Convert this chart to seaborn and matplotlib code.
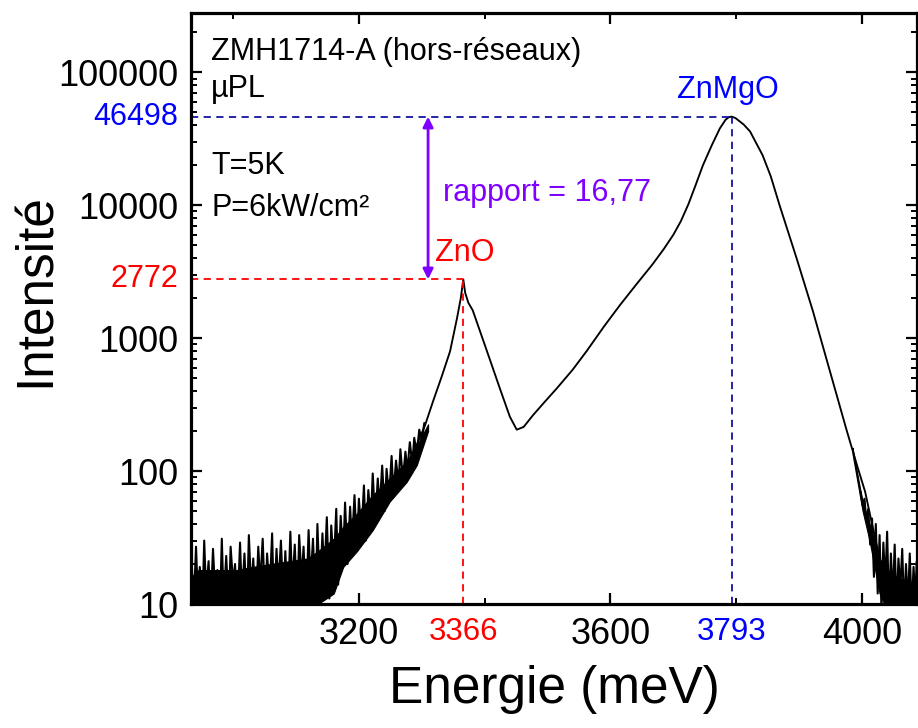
import numpy as np
import matplotlib
matplotlib.use("Agg")
import matplotlib.pyplot as plt
import matplotlib.transforms as mtransforms
from matplotlib.ticker import LogLocator, NullFormatter
import pandas as pd
import seaborn as sns

# Spectre µPL : énergie en meV, intensité
energie = [2933, 2960, 3000, 3040, 3080, 3120, 3150, 3180, 3205, 3230, 3255, 3275, 3290,
           3305, 3318, 3332, 3345, 3356, 3362, 3366, 3369, 3374, 3381, 3392, 3408, 3424,
           3440, 3451, 3462, 3477, 3495, 3515, 3540, 3562, 3590, 3615, 3640, 3667, 3685,
           3700, 3712, 3724, 3735, 3747, 3761, 3774, 3783, 3788, 3793, 3799, 3812, 3822, 3842,
           3855, 3869, 3896, 3922, 3949, 3976, 3992, 4005, 4015, 4030, 4055, 4087]
intensite = [14, 14, 15, 15, 16, 18, 22, 30, 40, 55, 78, 110, 150,
             220, 336, 520, 798, 1413, 2000, 2772, 2200, 1850, 1622, 1150, 697, 421,
             257, 205, 215, 264, 330, 421, 580, 798, 1230, 1771, 2500, 3600, 4700,
             6000, 7600, 10200, 14000, 19970, 28200, 37900, 44000, 46000, 46498, 45300, 40500, 36000, 23800,
             16500, 10000, 4000, 1597, 565, 200, 111, 70, 42, 20, 14, 13]

# bruit : coeur de la bande (enveloppe basse / haute)
bruit_gauche_e = [2933, 2945, 2975, 3005, 3030, 3060, 3090, 3118, 3135, 3160, 3175, 3197,
                  3222, 3249, 3276, 3292, 3310]
bruit_gauche_haut = [16, 18, 18, 18, 19, 20, 21, 22, 25, 31, 38, 48, 66, 88, 118, 155, 225]
bruit_gauche_bas = [9, 9, 9, 9, 9, 9, 9, 9.5, 10, 12, 19, 25, 36, 59, 83, 111, 200]
bruit_droite_e = [3985, 4001, 4012, 4028, 4040, 4055, 4070, 4087]
bruit_droite_haut = [150, 58, 40, 22, 18, 16, 15, 14]
bruit_droite_bas = [135, 50, 30, 12, 9, 9, 9, 9]

# pointes du bruit (énergie, intensité), haut / bas en alternance
pointes_gauche = [
    (2934, 22), (2937, 9), (2941, 27), (2944, 11), (2947, 19), (2951, 9), (2954, 30), (2957, 12),
    (2961, 21), (2964, 9), (2968, 26), (2971, 13), (2975, 18), (2979, 9), (2982, 31), (2985, 10),
    (2989, 23), (2993, 9), (2996, 27), (3000, 14), (3003, 20), (3007, 9), (3011, 29), (3014, 11),
    (3018, 24), (3022, 9), (3025, 33), (3029, 12), (3032, 22), (3036, 9), (3040, 27), (3043, 14),
    (3047, 31), (3051, 9), (3054, 24), (3058, 12), (3062, 34), (3065, 9), (3069, 26), (3072, 13),
    (3076, 30), (3080, 10), (3083, 25), (3087, 9), (3091, 35), (3094, 13), (3098, 28), (3102, 9),
    (3105, 33), (3109, 15), (3112, 27), (3116, 9), (3120, 36), (3123, 14), (3127, 31), (3131, 9),
    (3134, 40), (3138, 12), (3142, 34), (3145, 16), (3149, 45), (3153, 11), (3156, 39), (3160, 19),
    (3164, 52), (3167, 14), (3171, 46), (3175, 22), (3178, 58), (3182, 20), (3186, 54), (3189, 28),
    (3193, 66), (3197, 25), (3200, 62), (3204, 33), (3208, 78), (3211, 30), (3215, 72), (3219, 42),
    (3222, 96), (3226, 40), (3230, 88), (3233, 52), (3237, 110), (3241, 50), (3244, 104), (3248, 64),
    (3252, 130), (3255, 66), (3259, 120), (3263, 80), (3266, 146), (3270, 86), (3274, 140), (3277, 100),
    (3281, 165), (3285, 112), (3288, 178), (3292, 135), (3296, 205), (3300, 170), (3304, 230),
]
pointes_droite = [
    (3998, 70), (4001, 55), (4004, 62), (4007, 42), (4010, 52), (4013, 28), (4016, 44), (4019, 16),
    (4022, 40), (4025, 12), (4028, 33), (4031, 9), (4034, 29), (4037, 14), (4040, 35), (4043, 9),
    (4046, 24), (4049, 11), (4052, 28), (4055, 9), (4058, 22), (4061, 13), (4064, 26), (4067, 9),
    (4070, 20), (4073, 10), (4076, 24), (4079, 9), (4082, 19), (4085, 11), (4087, 21),
]

# pics
pic_zno = (3366, 2772)
pic_znmgo = (3793, 46498)
rapport = "rapport = 16,77"

yticks = [10, 100, 1000, 10000, 100000]
xticks = [3200, 3600, 4000]
xticks_min = [3000, 3400, 3800]

sns.set_theme(style="ticks", rc={"axes.edgecolor": "black", "xtick.color": "black",
                                  "ytick.color": "black", "text.color": "black",
                                  "axes.labelcolor": "black"})
plt.rcParams["font.family"] = ["Liberation Sans", "DejaVu Sans"]

BLEU, BLEU_F, ROUGE, VIOLET = "#0000FF", "#14149E", "#FF0000", "#8000FF"

fig = plt.figure(figsize=(9.18, 7.28), dpi=100)
ax = fig.add_axes([191 / 918, 124 / 728, 726 / 918, 591 / 728])
XMIN, XMAX, YMIN, YMAX = 2933, 4087.5, 10, 2.8e5

df = pd.DataFrame({"E": energie, "I": intensite})
ax.fill_between(bruit_gauche_e, bruit_gauche_bas, bruit_gauche_haut, color="black", lw=0.8)
ax.fill_between(bruit_droite_e, bruit_droite_bas, bruit_droite_haut, color="black", lw=0.8)
for pts in (pointes_gauche, pointes_droite):
    pe, pi = zip(*pts)
    ax.plot(pe, pi, color="black", lw=1.5)
sns.lineplot(data=df, x="E", y="I", ax=ax, color="black", lw=1.35, sort=False, estimator=None)

ax.set_yscale("log")
ax.set_xlim(XMIN, XMAX); ax.set_ylim(YMIN, YMAX)

# lignes de repère
ds = (0, (4, 3))
ax.hlines(pic_znmgo[1], XMIN, pic_znmgo[0], colors=BLEU_F, lw=1.3, linestyles=ds)
ax.vlines(pic_znmgo[0], YMIN, pic_znmgo[1], colors=BLEU_F, lw=1.3, linestyles=ds)
ax.hlines(pic_zno[1], XMIN, pic_zno[0], colors=ROUGE, lw=1.3, linestyles=ds)
ax.vlines(pic_zno[0], YMIN, pic_zno[1], colors=ROUGE, lw=1.3, linestyles=ds)

ax.annotate("", xy=(3310, pic_znmgo[1]), xytext=(3310, pic_zno[1]),
            arrowprops=dict(arrowstyle="<|-|>", color=VIOLET, lw=2, mutation_scale=15,
                            shrinkA=0, shrinkB=0))

# textes
fs = 22
ax.text(2965, 125000, "ZMH1714-A (hors-réseaux)", fontsize=fs, va="baseline")
ax.text(2965, 64900, "µPL", fontsize=fs, va="baseline")
ax.text(2965, 17100, "T=5K", fontsize=fs, va="baseline")
ax.text(2965, 8260, "P=6kW/cm²", fontsize=fs, va="baseline")
ax.text(3334, 10700, rapport, fontsize=fs, va="baseline", color=VIOLET)
ax.text(3321, 3790, "ZnO", fontsize=fs, va="baseline", color=ROUGE)
ax.text(3787, 63800, "ZnMgO", fontsize=fs, va="baseline", ha="center", color=BLEU)

# axes
ax.set_yticks(yticks, labels=[str(v) for v in yticks])
ax.yaxis.set_minor_locator(LogLocator(base=10, subs=np.arange(2, 10)))
ax.yaxis.set_minor_formatter(NullFormatter())
ax.set_xticks(xticks, labels=[str(v) for v in xticks])
ax.set_xticks(xticks_min, minor=True)
ax.tick_params(which="both", direction="in", top=True, right=True, labelsize=26, pad=9)
ax.tick_params(which="major", length=8, width=1.6)
ax.tick_params(which="minor", length=4, width=1.4)
for s in ax.spines.values():
    s.set_linewidth(2.3)

bt_y = mtransforms.blended_transform_factory(ax.transAxes, ax.transData)
bt_x = mtransforms.blended_transform_factory(ax.transData, ax.transAxes)
for val, col in [(pic_znmgo[1], BLEU), (pic_zno[1], ROUGE)]:
    ax.annotate(str(val), xy=(0, val), xycoords=bt_y, xytext=(-9, 0), textcoords="offset points",
                ha="right", va="center", fontsize=22, color=col)
for val, col in [(pic_zno[0], ROUGE), (pic_znmgo[0], BLEU)]:
    ax.annotate(str(val), xy=(val, 0), xycoords=bt_x, xytext=(0, -9), textcoords="offset points",
                ha="center", va="top", fontsize=22.5, color=col)

ax.set_xlabel("Energie (meV)", fontsize=37, labelpad=10)
ax.set_ylabel("Intensité", fontsize=37)
ax.yaxis.set_label_coords(-0.180, 0.531)

fig.savefig("out.png", dpi=100)
